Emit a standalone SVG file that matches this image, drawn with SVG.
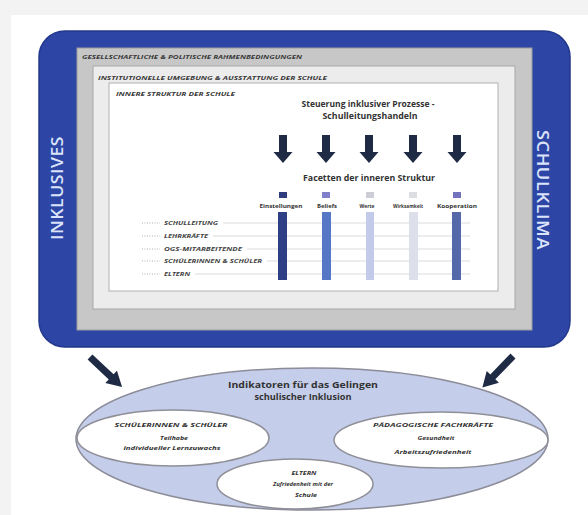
<svg xmlns="http://www.w3.org/2000/svg" width="588" height="515" viewBox="0 0 588 515">
<defs>
<style>
text{font-family:"Open Sans","Liberation Sans",sans-serif;fill:#333;}
.cap{font-size:6px;font-weight:bold;font-style:italic;fill:#3a3a3a;}
.row{font-size:5.5px;font-weight:bold;font-style:italic;fill:#444;}
.fac{font-size:5.5px;font-weight:bold;fill:#333;}
.head{font-size:9.5px;font-weight:bold;fill:#333;}
.ti{font-size:6px;font-weight:bold;font-style:italic;fill:#333;}
.bd{font-size:5.5px;font-weight:bold;font-style:italic;fill:#333;}
.side{font-size:16px;font-weight:600;fill:#dbe3fa;letter-spacing:0.5px;}
.lead{stroke:#9a9a9a;stroke-width:0.8;stroke-dasharray:1,1.5;}
.grid{stroke:#d2d2d2;stroke-width:0.8;}
.darr{fill:#1f2a44;}
.wel{fill:#fff;stroke:#8f8f98;stroke-width:1.5;}
</style>
<path id="da" d="M-4,135 H4 V152 H9.5 L0,163 L-9.5,152 H-4 Z"/>
<path id="ga" d="M0,-3.5 H29 V-8.5 L44,0 L29,8.5 V3.5 H0 Z"/>
</defs>
<rect x="0" y="0" width="588" height="515" fill="#f3f3f3"/>
<rect x="11" y="15" width="577" height="500" fill="#ffffff"/>

<g id="schulklima-frame">
<rect x="39" y="31" width="531" height="316" rx="26" fill="#2d46a6" stroke="#23398c" stroke-width="1.5"/>
<text class="side" transform="translate(63,188) rotate(-90)" text-anchor="middle" textLength="104" lengthAdjust="spacingAndGlyphs">INKLUSIVES</text>
<text class="side" transform="translate(537,190) rotate(90)" text-anchor="middle" textLength="120" lengthAdjust="spacingAndGlyphs">SCHULKLIMA</text>
</g>

<g id="gesellschaft">
<rect x="77" y="48" width="455" height="282" fill="#c7c7c7" stroke="#9c9c9c" stroke-width="1"/>
<text class="cap" x="82" y="59" textLength="220" lengthAdjust="spacingAndGlyphs">GESELLSCHAFTLICHE &amp; POLITISCHE RAHMENBEDINGUNGEN</text>
</g>

<g id="institutionell">
<rect x="93" y="66" width="422" height="243" fill="#ececec" stroke="#a8a8a8" stroke-width="1"/>
<text class="cap" x="98" y="80" textLength="229" lengthAdjust="spacingAndGlyphs">INSTITUTIONELLE UMGEBUNG &amp; AUSSTATTUNG DER SCHULE</text>
</g>

<g id="innere-struktur">
<rect x="109" y="83" width="389" height="208" fill="#ffffff" stroke="#b0b0b0" stroke-width="1"/>
<text class="cap" x="116" y="96" textLength="119" lengthAdjust="spacingAndGlyphs">INNERE STRUKTUR DER SCHULE</text>
<text class="head" x="368" y="107" text-anchor="middle" textLength="133" lengthAdjust="spacingAndGlyphs">Steuerung inklusiver Prozesse -</text>
<text class="head" x="370" y="119" text-anchor="middle" textLength="95" lengthAdjust="spacingAndGlyphs">Schulleitungshandeln</text>
<g class="darr">
<use href="#da" x="283"/>
<use href="#da" x="326"/>
<use href="#da" x="369"/>
<use href="#da" x="413"/>
<use href="#da" x="457"/>
</g>
<text class="head" x="369" y="181" text-anchor="middle" textLength="132" lengthAdjust="spacingAndGlyphs">Facetten der inneren Struktur</text>
</g>

<g id="facetten">
<rect x="279" y="192" width="8" height="6" fill="#2f3c7e"/>
<rect x="322" y="192" width="8" height="6" fill="#7f80c9"/>
<rect x="366" y="192" width="8" height="6" fill="#cdcdd6"/>
<rect x="409" y="192" width="8" height="6" fill="#dcdce3"/>
<rect x="453" y="192" width="8" height="6" fill="#7272bd"/>
<text class="fac" x="281" y="208" text-anchor="middle" textLength="43" lengthAdjust="spacingAndGlyphs">Einstellungen</text>
<text class="fac" x="327" y="208" text-anchor="middle" textLength="20" lengthAdjust="spacingAndGlyphs">Beliefs</text>
<text class="fac" x="367" y="208" text-anchor="middle" textLength="15" lengthAdjust="spacingAndGlyphs">Werte</text>
<text class="fac" x="408" y="208" text-anchor="middle" textLength="30" lengthAdjust="spacingAndGlyphs">Wirksamkeit</text>
<text class="fac" x="457" y="208" text-anchor="middle" textLength="40" lengthAdjust="spacingAndGlyphs">Kooperation</text>
</g>

<g id="akteure">
<line class="lead" x1="142" y1="223" x2="160" y2="223"/>
<line class="lead" x1="142" y1="236" x2="160" y2="236"/>
<line class="lead" x1="142" y1="249" x2="160" y2="249"/>
<line class="lead" x1="142" y1="261" x2="160" y2="261"/>
<line class="lead" x1="142" y1="274" x2="160" y2="274"/>
<line class="grid" x1="223" y1="223" x2="470" y2="223"/>
<line class="grid" x1="213" y1="236" x2="470" y2="236"/>
<line class="grid" x1="247" y1="249" x2="470" y2="249"/>
<line class="grid" x1="267" y1="261" x2="470" y2="261"/>
<line class="grid" x1="195" y1="274" x2="470" y2="274"/>
<text class="row" x="164" y="225" textLength="54" lengthAdjust="spacingAndGlyphs">SCHULLEITUNG</text>
<text class="row" x="164" y="238" textLength="44" lengthAdjust="spacingAndGlyphs">LEHRKRÄFTE</text>
<text class="row" x="164" y="251" textLength="78" lengthAdjust="spacingAndGlyphs">OGS-MITARBEITENDE</text>
<text class="row" x="164" y="263" textLength="98" lengthAdjust="spacingAndGlyphs">SCHÜLERINNEN &amp; SCHÜLER</text>
<text class="row" x="164" y="276" textLength="26" lengthAdjust="spacingAndGlyphs">ELTERN</text>
<rect x="278" y="212" width="9" height="68" fill="#2f3f86"/>
<rect x="322" y="212" width="9" height="68" fill="#5677c6"/>
<rect x="366" y="212" width="8" height="68" fill="#c3cbea"/>
<rect x="409" y="212" width="9" height="68" fill="#dde0ea"/>
<rect x="452" y="212" width="9" height="68" fill="#5568aa"/>
</g>

<g id="connectors" class="darr">
<use href="#ga" transform="translate(90,357) rotate(43.2)"/>
<use href="#ga" transform="translate(513,356) rotate(134.1)"/>
</g>

<g id="indikatoren">
<ellipse cx="312" cy="439" rx="236" ry="71" fill="#c4cdea" stroke="#8c8c99" stroke-width="1.5"/>
<text class="head" x="303" y="388" text-anchor="middle" textLength="150" lengthAdjust="spacingAndGlyphs">Indikatoren für das Gelingen</text>
<text class="head" x="303" y="400" text-anchor="middle" textLength="97" lengthAdjust="spacingAndGlyphs">schulischer Inklusion</text>
</g>

<g id="schueler">
<ellipse class="wel" cx="173" cy="438" rx="96" ry="28"/>
<text class="ti" x="171" y="427" text-anchor="middle" textLength="113" lengthAdjust="spacingAndGlyphs">SCHÜLERINNEN &amp; SCHÜLER</text>
<text class="bd" x="174" y="440" text-anchor="middle" textLength="28" lengthAdjust="spacingAndGlyphs">Teilhabe</text>
<text class="bd" x="172" y="450" text-anchor="middle" textLength="97" lengthAdjust="spacingAndGlyphs">individueller Lernzuwachs</text>
</g>

<g id="fachkraefte">
<ellipse class="wel" cx="441" cy="440" rx="107" ry="28"/>
<text class="ti" x="433" y="427" text-anchor="middle" textLength="120" lengthAdjust="spacingAndGlyphs">PÄDAGOGISCHE FACHKRÄFTE</text>
<text class="bd" x="436" y="440" text-anchor="middle" textLength="37" lengthAdjust="spacingAndGlyphs">Gesundheit</text>
<text class="bd" x="433" y="454" text-anchor="middle" textLength="77" lengthAdjust="spacingAndGlyphs">Arbeitszufriedenheit</text>
</g>

<g id="eltern">
<ellipse class="wel" cx="295" cy="484" rx="78" ry="25"/>
<text class="ti" x="304" y="475" text-anchor="middle" textLength="25" lengthAdjust="spacingAndGlyphs">ELTERN</text>
<text class="bd" x="303" y="486" text-anchor="middle" textLength="60" lengthAdjust="spacingAndGlyphs">Zufriedenheit mit der</text>
<text class="bd" x="306" y="497" text-anchor="middle" textLength="22" lengthAdjust="spacingAndGlyphs">Schule</text>
</g>
</svg>
